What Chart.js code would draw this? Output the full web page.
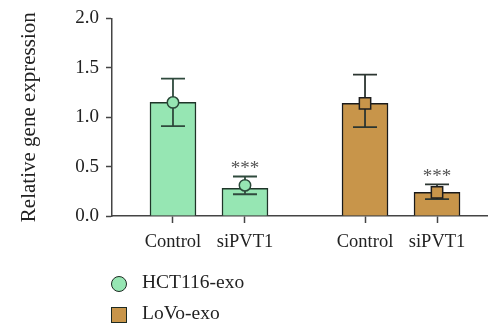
<!DOCTYPE html>
<html>
<head>
<meta charset="utf-8">
<script src="https://cdn.jsdelivr.net/npm/chart.js@4"></script>
<style>
  body { margin: 0; background: #fff; }
  #wrap { position: relative; width: 488px; height: 327px; }
  .leg { position: absolute; left: 111px; font: 19.5px "Liberation Serif", serif; color: #222; }
  .leg span.mk { position: absolute; left: 0; width: 14px; height: 14px; border: 1.5px solid #1d2a22; }
  .leg span.tx { position: absolute; left: 31px; white-space: nowrap; }
</style>
</head>
<body>
<div id="wrap">
  <canvas id="canvas" width="488" height="327"></canvas>
  <div class="leg" style="top:276px"><span class="mk" style="border-radius:50%;background:#96e6b3"></span><span class="tx" style="top:-5px">HCT116-exo</span></div>
  <div class="leg" style="top:307px"><span class="mk" style="background:#c8954a"></span><span class="tx" style="top:-5px">LoVo-exo</span></div>
</div>
<script>
const conditions = ["Control", "siPVT1"];
const groups = ["HCT116-exo", "LoVo-exo"];
const hctMean = [1.15, 0.28];
const hctUpper = [1.39, 0.40];
const hctLower = [0.91, 0.22];
const hctPoint = [1.15, 0.31];
const lovoMean = [1.14, 0.24];
const lovoUpper = [1.43, 0.32];
const lovoLower = [0.90, 0.17];
const lovoPoint = [1.14, 0.24];
const signif = ["", "***"];
const yTicks = [0, 0.5, 1.0, 1.5, 2.0];

const groupGap = 2.667;
const xs = (g) => conditions.map((c, i) => g * groupGap + i);
const tickPos = [...xs(0), ...xs(1)];
const tickLabel = {};
tickPos.forEach((p, i) => (tickLabel[p.toFixed(3)] = conditions[i % 2]));

const green = "#96e6b3", brown = "#c8954a";
const serif = "'Liberation Serif', serif";

const toXY = (g, arr) => xs(g).map((x, i) => ({ x: x, y: arr[i] }));

const errorBars = {
  id: "errorBars",
  afterDatasetDraw(chart, args) {
    const ds = chart.data.datasets[args.index];
    if (!ds.errUp) return;
    const c = chart.ctx, xS = chart.scales.x, yS = chart.scales.y;
    c.save();
    c.strokeStyle = ds.errColor;
    c.lineWidth = 1.8;
    ds.data.forEach((d, i) => {
      const px = xS.getPixelForValue(d.x);
      const top = yS.getPixelForValue(ds.errUp[i]);
      const bot = yS.getPixelForValue(ds.errLo[i]);
      c.beginPath();
      c.moveTo(px, top); c.lineTo(px, bot);
      c.moveTo(px - 12, top); c.lineTo(px + 12, top);
      c.moveTo(px - 12, bot); c.lineTo(px + 12, bot);
      c.stroke();
      if (signif[i]) {
        c.fillStyle = "#555";
        c.font = "19px " + serif;
        c.textAlign = "center";
        c.textBaseline = "middle";
        c.fillText(signif[i], px, top - 7);
      }
    });
    c.restore();
  }
};

const ctx = document.getElementById("canvas").getContext("2d");

new Chart(ctx, {
  type: "bar",
  data: {
    datasets: [
      {
        type: "scatter",
        label: groups[0] + " mean",
        data: toXY(0, hctPoint),
        pointStyle: "circle",
        pointRadius: 5.7,
        pointBackgroundColor: green,
        pointBorderColor: "#2b4a3a",
        pointBorderWidth: 1.5,
        order: 0,
      },
      {
        type: "scatter",
        label: groups[1] + " mean",
        data: toXY(1, lovoPoint),
        pointStyle: "rect",
        pointRadius: 8,
        pointBackgroundColor: brown,
        pointBorderColor: "#1e1e1e",
        pointBorderWidth: 1.5,
        order: 0,
      },
      {
        label: groups[0],
        data: toXY(0, hctMean),
        backgroundColor: green,
        borderColor: "#1f3529",
        borderWidth: 1.5,
        barThickness: 46,
        grouped: false,
        errUp: hctUpper,
        errLo: hctLower,
        errColor: "#2f4a3d",
        order: 1,
      },
      {
        label: groups[1],
        data: toXY(1, lovoMean),
        backgroundColor: brown,
        borderColor: "#1a1a1a",
        borderWidth: 1.5,
        barThickness: 46,
        grouped: false,
        errUp: lovoUpper,
        errLo: lovoLower,
        errColor: "#2c3631",
        order: 1,
      },
    ],
  },
  plugins: [errorBars],
  options: {
    responsive: false,
    animation: false,
    layout: { autoPadding: false, padding: { top: 15, right: 0, bottom: 71, left: 0 } },
    scales: {
      x: {
        type: "linear",
        offset: false,
        min: -0.847,
        max: 4.375,
        afterBuildTicks: (s) => { s.ticks = tickPos.map((v) => ({ value: v })); },
        afterFit: (s) => { s.height = 40; s.paddingLeft = 0; s.paddingRight = 0; },
        ticks: {
          autoSkip: false,
          maxRotation: 0,
          color: "#222",
          font: { family: serif, size: 18.5 },
          padding: 8,
          callback: (v) => tickLabel[Number(v).toFixed(3)] || "",
        },
        grid: { offset: false, drawOnChartArea: false, tickLength: 7, color: "#444", tickWidth: 1.5 },
        border: { color: "#444", width: 1.5 },
      },
      y: {
        min: 0,
        max: 2,
        afterBuildTicks: (s) => { s.ticks = yTicks.map((v) => ({ value: v })); },
        afterFit: (s) => { s.width = 112; },
        ticks: {
          color: "#222",
          font: { family: serif, size: 19 },
          padding: 7,
          callback: (v) => Number(v).toFixed(1),
        },
        grid: { drawOnChartArea: false, tickLength: 6, color: "#444", tickWidth: 1.5 },
        border: { color: "#444", width: 1.5 },
        title: {
          display: true,
          text: "Relative gene expression",
          color: "#222",
          font: { family: serif, size: 21 },
          padding: { top: 17, bottom: 0 },
        },
      },
    },
    plugins: {
      legend: { display: false },
      tooltip: { enabled: false },
    },
  },
});
</script>
</body>
</html>
